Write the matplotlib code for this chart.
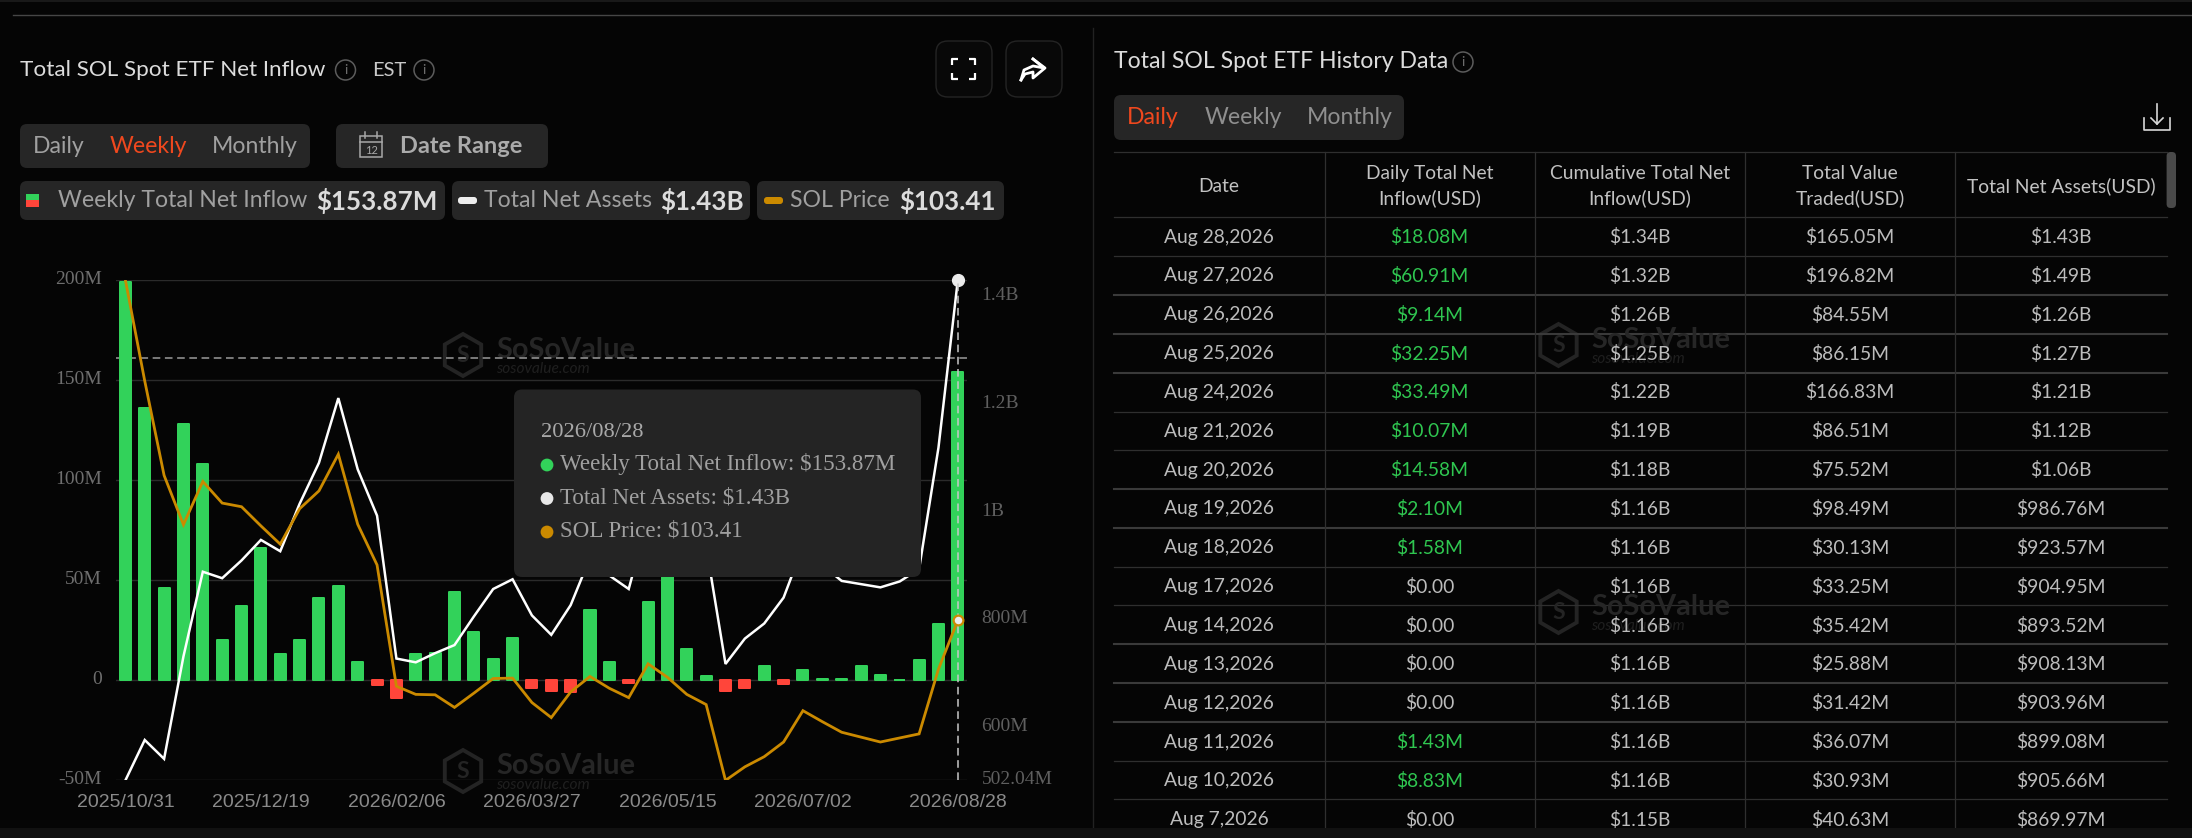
import matplotlib

matplotlib.use("Agg")
import matplotlib.pyplot as plt
from matplotlib.patches import Circle, FancyBboxPatch, Rectangle, RegularPolygon
from matplotlib.transforms import ScaledTranslation

WIDTH = 2192
HEIGHT = 838

BG = "#050505"
PILL = "#262626"
GRID = "#2b2b2b"
GREEN = "#32d25a"
RED = "#ff453a"
ORANGE = "#cb8a00"
ACCENT = "#f0481e"
TABLE_GREEN = "#2fc650"

UI_FONT = ["Lato", "DejaVu Sans"]
SERIF_FONT = ["Liberation Serif", "DejaVu Serif"]
DATE_FONT = ["Liberation Sans", "DejaVu Sans"]

# weekly chart
WEEKLY_INFLOW = [
    199, 136, 46, 128, 108, 20, 37, 66, 13, 20, 41, 47, 9.3, -2.5, -9,
    13, 13.5, 44, 24, 10.5, 21, -4, -5.5, -5.7, 35, 9, -1.3, 39, 58, 15.5,
    2, -5.3, -4, 7, -2, 5.3, 0.8, 0.8, 7, 2.5, 0.2, 10, 28, 153.87,
]
NET_ASSETS = [
    502.04, 577, 542, 732, 889, 877, 910, 948, 927, 1015, 1091, 1211, 1079, 993, 728,
    721, 738, 753, 806, 857, 875, 808, 772, 827, 915, 882, 857, 990, 1025, 1000,
    936, 718, 765, 793, 841, 936, 901, 872, 866, 860, 871, 894, 1119, 1430,
]
SOL_PRICE = [
    187, 162.2, 139, 126.9, 137.5, 132.2, 131.3, 126.6, 122.1, 130.8, 135.2, 144.2, 127, 117, 87.2,
    85.2, 85.1, 82, 85.5, 89.1, 89.2, 83.2, 79.5, 85.8, 89.6, 86.7, 84.4, 92.7, 89.4, 85.2,
    82.7, 64.07, 67.4, 69.9, 73.5, 81.2, 78.5, 75.9, 74.7, 73.5, 74.5, 75.5, 91.4, 103.41,
]
DATE_TICKS = [0, 7, 14, 21, 28, 35, 43]
DATE_LABELS = ["2025/10/31", "2025/12/19", "2026/02/06", "2026/03/27", "2026/05/15", "2026/07/02", "2026/08/28"]
LEFT_TICKS = [-50, 0, 50, 100, 150, 200]
LEFT_LABELS = ["-50M", "0", "50M", "100M", "150M", "200M"]
RIGHT_TICKS = [502.04, 600, 800, 1000, 1200, 1400]
RIGHT_LABELS = ["502.04M", "600M", "800M", "1B", "1.2B", "1.4B"]
CROSSHAIR_INFLOW = 161

# history table
TABLE_HEADERS = ["Date", "Daily Total Net\nInflow(USD)", "Cumulative Total Net\nInflow(USD)", "Total Value\nTraded(USD)", "Total Net Assets(USD)"]
TABLE_DATES = [
    "Aug 28,2026", "Aug 27,2026", "Aug 26,2026", "Aug 25,2026", "Aug 24,2026", "Aug 21,2026",
    "Aug 20,2026", "Aug 19,2026", "Aug 18,2026", "Aug 17,2026", "Aug 14,2026", "Aug 13,2026",
    "Aug 12,2026", "Aug 11,2026", "Aug 10,2026", "Aug 7,2026",
]
TABLE_INFLOW = [
    "$18.08M", "$60.91M", "$9.14M", "$32.25M", "$33.49M", "$10.07M", "$14.58M", "$2.10M",
    "$1.58M", "$0.00", "$0.00", "$0.00", "$0.00", "$1.43M", "$8.83M", "$0.00",
]
TABLE_CUMULATIVE = [
    "$1.34B", "$1.32B", "$1.26B", "$1.25B", "$1.22B", "$1.19B", "$1.18B", "$1.16B",
    "$1.16B", "$1.16B", "$1.16B", "$1.16B", "$1.16B", "$1.16B", "$1.16B", "$1.15B",
]
TABLE_TRADED = [
    "$165.05M", "$196.82M", "$84.55M", "$86.15M", "$166.83M", "$86.51M", "$75.52M", "$98.49M",
    "$30.13M", "$33.25M", "$35.42M", "$25.88M", "$31.42M", "$36.07M", "$30.93M", "$40.63M",
]
TABLE_ASSETS = [
    "$1.43B", "$1.49B", "$1.26B", "$1.27B", "$1.21B", "$1.12B", "$1.06B", "$986.76M",
    "$923.57M", "$904.95M", "$893.52M", "$908.13M", "$903.96M", "$899.08M", "$905.66M", "$869.97M",
]


def label(ax, x, y, s, size, color="#bdbdbd", ha="left", weight="normal", font=UI_FONT, **kwargs):
    # size is given in pixels, the canvas is 100 dpi
    return ax.text(x, y, s, fontsize=size * 0.72, color=color, ha=ha, va="center",
                   fontweight=weight, family=font, **kwargs)


def box(ax, x0, y0, x1, y1, color=PILL, radius=7, edge="none", zorder=1):
    patch = FancyBboxPatch((x0, y0), x1 - x0, y1 - y0, boxstyle=f"round,pad=0,rounding_size={radius}",
                           facecolor=color, edgecolor=edge, linewidth=1, zorder=zorder)
    ax.add_patch(patch)


def info_icon(ax, x, y):
    ax.add_patch(Circle((x, y), 10, facecolor="none", edgecolor="#5c5c5c", linewidth=1.1))
    label(ax, x, y, "i", 14, "#6c6c6c", ha="center")


def watermark(ax, x, y, text_x):
    ax.add_patch(RegularPolygon((x, y), 6, radius=21, facecolor="none", edgecolor="#242424", linewidth=2.8))
    label(ax, x, y, "S", 23, "#242424", ha="center", weight="bold")
    label(ax, text_x, y - 5, "SoSoValue", 29, "#262626", weight="bold")
    label(ax, text_x, y + 14, "sosovalue.com", 15.5, "#1f1f1f", style="italic")


def draw_background(bg):
    bg.add_patch(Rectangle((0, 0), WIDTH, 2, facecolor="#191919"))
    bg.plot([13, WIDTH], [14.7, 14.7], color="#464646", lw=1)
    bg.plot([1093, 1093], [28, 828], color="#222222", lw=1)

    # left header
    label(bg, 19.5, 70, "Total SOL Spot ETF Net Inflow", 22.5, "#dcdcdc")
    info_icon(bg, 345.5, 70)
    label(bg, 372, 70, "EST", 20, "#c8c8c8")
    info_icon(bg, 424, 70)

    box(bg, 936, 41, 992, 97, color="#080808", radius=12, edge="#242424")
    box(bg, 1006, 41, 1062, 97, color="#080808", radius=12, edge="#242424")
    for cx, sx in [(952, 1), (975, -1)]:
        for cy, sy in [(59, 1), (79, -1)]:
            bg.plot([cx + 6 * sx, cx, cx], [cy, cy, cy + 6 * sy], color="white", lw=1.6, solid_capstyle="butt")
    bg.plot([1021, 1024, 1033, 1044, 1033, 1033], [80, 70, 66, 68, 59, 59], color="white", lw=2)
    bg.plot([1033, 1045, 1033, 1033, 1025, 1021], [59, 68, 78, 72, 74, 80], color="white", lw=2)

    box(bg, 20, 124, 310, 168)
    label(bg, 59, 146.5, "Daily", 23, "#a0a0a0", ha="center")
    label(bg, 148, 146.5, "Weekly", 23, ACCENT, ha="center")
    label(bg, 255, 146.5, "Monthly", 23, "#a0a0a0", ha="center")

    box(bg, 336, 124, 548, 168)
    bg.add_patch(Rectangle((360, 136), 22, 21, facecolor="none", edgecolor="#a8a8a8", linewidth=1.1))
    bg.plot([360, 382], [142, 142], color="#a8a8a8", lw=1.1)
    bg.plot([365, 365], [132, 138], color="#a8a8a8", lw=1.1)
    bg.plot([377, 377], [132, 138], color="#a8a8a8", lw=1.1)
    label(bg, 371, 150, "12", 11, "#a8a8a8", ha="center")
    label(bg, 400, 146.5, "Date Range", 23.5, "#ababab", weight="bold")

    # legend pills
    box(bg, 20, 181, 445, 220)
    bg.add_patch(Rectangle((26, 194), 13, 6.4, facecolor=GREEN))
    bg.add_patch(Rectangle((26, 200.4), 13, 6.4, facecolor=RED))
    label(bg, 58, 200.5, "Weekly Total Net Inflow", 23, "#a0a0a0")
    label(bg, 316, 200.5, "$153.87M", 26, "#dcdcdc", weight="bold")

    box(bg, 452, 181, 750, 220)
    box(bg, 458, 197, 477, 204, color="#ededed", radius=3)
    label(bg, 484, 200.5, "Total Net Assets", 23, "#a0a0a0")
    label(bg, 660, 200.5, "$1.43B", 26, "#dcdcdc", weight="bold")

    box(bg, 757, 181, 1004, 220)
    box(bg, 764, 197, 783, 204, color=ORANGE, radius=3)
    label(bg, 790, 200.5, "SOL Price", 23, "#a0a0a0")
    label(bg, 899, 200.5, "$103.41", 26, "#dcdcdc", weight="bold")

    watermark(bg, 463, 355, 496)
    watermark(bg, 463, 771, 496)


def draw_table(bg):
    label(bg, 1114, 62, "Total SOL Spot ETF History Data", 23, "#dcdcdc")
    info_icon(bg, 1463, 62)

    box(bg, 1114, 95, 1404, 140)
    label(bg, 1153, 117, "Daily", 23, ACCENT, ha="center")
    label(bg, 1243, 117, "Weekly", 23, "#8f8f8f", ha="center")
    label(bg, 1350, 117, "Monthly", 23, "#8f8f8f", ha="center")

    bg.plot([2157, 2157], [104, 124], color="#d8d8d8", lw=1.2)
    bg.plot([2151, 2157, 2163], [118, 124, 118], color="#d8d8d8", lw=1.2)
    bg.plot([2144, 2144, 2170, 2170], [118, 130, 130, 118], color="#d8d8d8", lw=1.2)

    watermark(bg, 1558.5, 345, 1591)
    watermark(bg, 1558.5, 612, 1591)

    col_lines = [1324.7, 1534.5, 1745, 1955.4]
    col_centers = [1219, 1429.5, 1639.7, 1850, 2061]
    row_lines = [152, 217.5, 256.5, 295, 333.7, 372.7, 411.7, 450.3, 489, 528, 566.6, 605.3, 644, 683, 722, 760.7, 799.3]
    thick_rows = {295, 333.7, 372.7, 489, 528, 644, 683, 722}

    for y in row_lines:
        bg.plot([1114, 2166.6], [y, y], color="#3a3a3a" if y in thick_rows else "#2f2f2f",
                lw=1.5 if y in thick_rows else 0.9)
    for x in col_lines:
        bg.plot([x, x], [152, 828], color="#2f2f2f", lw=0.9)
    box(bg, 2166.6, 152, 2176, 208, color="#4a4a4a", radius=4)

    for x, header in zip(col_centers, TABLE_HEADERS):
        lines = header.split("\n")
        if len(lines) == 1:
            label(bg, x, 186.5, lines[0], 19.3, "#c2c2c2", ha="center")
        else:
            label(bg, x, 173.5, lines[0], 19.3, "#c2c2c2", ha="center")
            label(bg, x, 198.5, lines[1], 19.3, "#c2c2c2", ha="center")

    columns = [TABLE_DATES, TABLE_INFLOW, TABLE_CUMULATIVE, TABLE_TRADED, TABLE_ASSETS]
    for col, (x, values) in enumerate(zip(col_centers, columns)):
        for row, value in enumerate(values):
            y = 237 + row * 38.85
            color = "#bcbcbc"
            if col == 1 and value != "$0.00":
                color = TABLE_GREEN
            label(bg, x, y, value, 19.3, color, ha="center")

    bg.add_patch(Rectangle((0, 828), WIDTH, 10, facecolor="#111111", zorder=5))


def draw_chart(fig):
    left, right, top, bottom = 115.7, 967.5, 280, 780.4
    ax = fig.add_axes([left / WIDTH, 1 - bottom / HEIGHT, (right - left) / WIDTH, (bottom - top) / HEIGHT])
    ax.patch.set_alpha(0)
    positions = range(len(WEEKLY_INFLOW))

    colors = [GREEN if v >= 0 else RED for v in WEEKLY_INFLOW]
    ax.bar(positions, WEEKLY_INFLOW, width=0.57, color=colors, edgecolor=colors, linewidth=1.44,
           joinstyle="round", zorder=3)

    ax.set_xlim(-0.5, len(WEEKLY_INFLOW) - 0.5)
    ax.set_ylim(-50, 200)
    ax.set_yticks(LEFT_TICKS, LEFT_LABELS, family=SERIF_FONT, fontsize=14, color="#6e6e6e")
    ax.set_xticks(DATE_TICKS, DATE_LABELS, family=DATE_FONT, fontsize=14, color="#8a8a8a")
    ax.tick_params(axis="y", length=0, pad=10)
    ax.tick_params(axis="x", length=0, pad=10)
    ax.grid(axis="y", color=GRID, lw=1)
    ax.set_axisbelow(True)
    for spine in ax.spines.values():
        spine.set_visible(False)

    ax_assets = ax.twinx()
    ax_assets.plot(positions, NET_ASSETS, color="white", lw=1.8, solid_joinstyle="miter", zorder=4)
    ax_assets.set_ylim(502.04, 1430)
    ax_assets.set_yticks(RIGHT_TICKS, RIGHT_LABELS, family=SERIF_FONT, fontsize=14, color="#5f5f5f")
    ax_assets.tick_params(axis="y", length=0, pad=10)
    for spine in ax_assets.spines.values():
        spine.set_visible(False)

    # y labels sit a little above their grid lines
    nudge = ScaledTranslation(0, 2 / 72, fig.dpi_scale_trans)
    for tick_label in ax.get_yticklabels() + ax_assets.get_yticklabels():
        tick_label.set_transform(tick_label.get_transform() + nudge)

    ax_price = ax.twinx()
    ax_price.plot(positions, SOL_PRICE, color=ORANGE, lw=2, solid_joinstyle="miter", zorder=4)
    ax_price.set_ylim(64.07, 187)
    ax_price.axis("off")

    # crosshair and hover markers
    last = len(WEEKLY_INFLOW) - 1
    ax.axhline(CROSSHAIR_INFLOW, color="#9a9a9a", lw=1.1, ls=(0, (5, 3)), zorder=2)
    ax_price.axvline(last, color="#c8c8c8", lw=1.1, ls=(0, (5, 3)), zorder=3)
    ax_assets.plot([last], [NET_ASSETS[last]], "o", color="#ececec", ms=8.5, clip_on=False, zorder=6)
    ax_price.plot([last], [SOL_PRICE[last]], "o", mfc="#ececec", mec=ORANGE, mew=1.6, ms=7, clip_on=False, zorder=6)


def draw_tooltip(over):
    box(over, 514, 389.5, 921, 577, color="#242424", radius=8)
    label(over, 541, 432, "2026/08/28", 22.5, "#a8a8a8", font=SERIF_FONT)
    rows = [
        (465, GREEN, "Weekly Total Net Inflow: $153.87M"),
        (498.5, "#e8e8e8", "Total Net Assets: $1.43B"),
        (532, ORANGE, "SOL Price: $103.41"),
    ]
    for y, color, text in rows:
        over.add_patch(Circle((547, y), 6.4, facecolor=color, edgecolor="none"))
        label(over, 560, y - 1, text, 23, "#a0a0a0", font=SERIF_FONT)


def pixel_axes(fig, zorder):
    ax = fig.add_axes([0, 0, 1, 1], zorder=zorder)
    ax.set_xlim(0, WIDTH)
    ax.set_ylim(HEIGHT, 0)
    ax.axis("off")
    return ax


def main():
    fig = plt.figure(figsize=(WIDTH / 100, HEIGHT / 100), dpi=100, facecolor=BG)

    bg = pixel_axes(fig, 0)
    draw_background(bg)
    draw_table(bg)

    draw_chart(fig)

    over = pixel_axes(fig, 10)
    draw_tooltip(over)

    fig.savefig("out.png", dpi=100, facecolor=BG)


if __name__ == "__main__":
    main()
